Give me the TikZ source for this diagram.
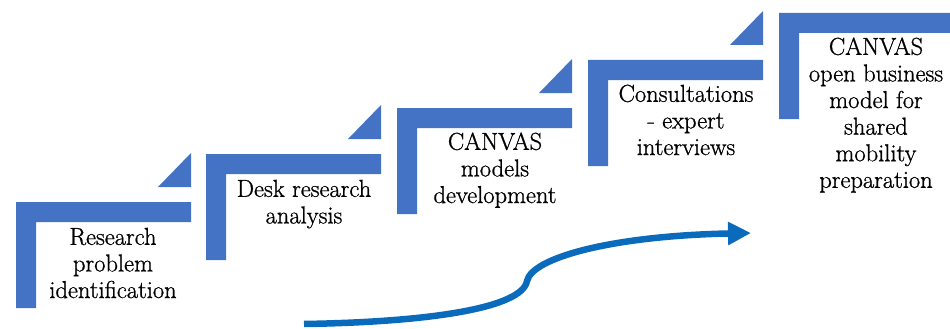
\documentclass[tikz,border=0pt]{standalone}
\usepackage{fontspec}
\newfontfamily\stepfont{Latin Modern Roman}[FakeBold=0.9]
\usetikzlibrary{arrows.meta}
\definecolor{stairblue}{HTML}{4472C4}
\definecolor{arrowblue}{HTML}{0A6BBD}
\tikzset{
  stairbar/.style={fill=stairblue},
  steplabel/.style={anchor=north, align=center, inner sep=0pt,
    font=\stepfont\fontsize{24.5}{26.6}\selectfont, text=black},
  pics/stair/.style={code={
    \fill[stairbar] (0,0) -- (175,0) -- (175,20) -- (20,20) -- (20,106) -- (0,106) -- cycle;
  }},
  pics/stairtri/.style={code={
    \fill[stairbar] (175,-49) -- (175,-15) -- (142,-15) -- cycle;
  }},
  progress/.style={draw=arrowblue, line width=6.5pt,
    -{Triangle[length=23pt,width=22pt]}}
}
\begin{document}
\begin{tikzpicture}[x=1pt,y=-1pt]
\useasboundingbox (0,0) rectangle (950,329);
% steps
\pic at (16,202) {stair}; \pic at (16,202) {stairtri};
\pic at (206,154) {stair}; \pic at (206,154) {stairtri};
\pic at (397,108) {stair}; \pic at (397,108) {stairtri};
\pic at (588,60) {stair}; \pic at (588,60) {stairtri};
\pic at (779,13) {stair};
% labels
\node[steplabel] (s1) at (113,226) {\strut Research\\problem\\identification};
\node[steplabel] (s2) at (304,178) {\strut Desk research\\analysis};
\node[steplabel] (s3) at (495,131) {\strut CANVAS\\models\\development};
\node[steplabel] (s4) at (686,83) {\strut Consultations\\- expert\\interviews};
\node[steplabel] (s5) at (876,36) {\strut CANVAS\\open business\\model for\\shared\\mobility\\preparation};
% progress arrow
\coordinate (astart) at (304,324);
\coordinate (amid) at (527,281);
\coordinate (aend) at (751,233);
\draw[progress] (astart) .. controls (430,322) and (522,308) .. (amid)
  .. controls (532,258) and (610,236) .. (aend);
\end{tikzpicture}
\end{document}
